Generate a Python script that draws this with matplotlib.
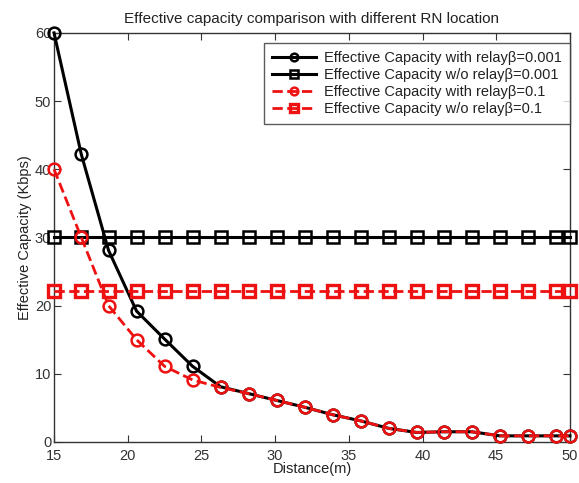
import matplotlib
matplotlib.use("Agg")
import matplotlib.pyplot as plt

plt.rcParams['font.family'] = ['Liberation Sans', 'DejaVu Sans']

distance = [15, 16.85, 18.7, 20.6, 22.5, 24.4, 26.3, 28.2, 30.1, 32.0, 33.9,
            35.8, 37.7, 39.6, 41.45, 43.35, 45.25, 47.15, 49.05, 50]
ec_relay_001 = [60, 42.2, 28.1, 19.2, 15.1, 11.1, 8.1, 7.1, 6.1, 5.1, 4.0,
                3.1, 2.0, 1.4, 1.5, 1.5, 0.9, 0.9, 0.9, 0.9]
ec_norelay_001 = [30] * 20
ec_relay_01 = [40, 30, 20, 15, 11.1, 9.1, 8.0, 7.1, 6.1, 5.1, 4.0,
               3.1, 2.0, 1.4, 1.5, 1.5, 0.9, 0.9, 0.9, 0.9]
ec_norelay_01 = [22.2] * 20

labels = ["Effective Capacity with relay\u03b2=0.001",
          "Effective Capacity w/o relay\u03b2=0.001",
          "Effective Capacity with relay\u03b2=0.1",
          "Effective Capacity w/o relay\u03b2=0.1"]

fig = plt.figure(figsize=(5.79, 4.83), dpi=100)
ax = fig.add_axes([0.0933, 0.0849, 0.891, 0.847])

red = '#ee1111'
ax.plot(distance, ec_relay_001, '-', color='black', lw=2.2, marker='o', ms=8.5,
        mfc='none', mec='black', mew=1.8, clip_on=False, zorder=3, label=labels[0])
ax.plot(distance, ec_norelay_001, '-', color='black', lw=2.2, marker='s', ms=8.5,
        mfc='none', mec='black', mew=1.8, clip_on=False, zorder=3, label=labels[1])
ax.plot(distance, ec_relay_01, '--', color=red, lw=2.0, marker='o', ms=8.5,
        mfc='none', mec=red, mew=1.8, clip_on=False, zorder=4, label=labels[2])
ax.plot(distance, ec_norelay_01, '--', color=red, lw=2.0, marker='s', ms=8.5,
        mfc='none', mec=red, mew=2.4, clip_on=False, zorder=4, label=labels[3])

ax.set_xlim(15, 50)
ax.set_ylim(0, 60)
ax.set_xticks([15, 20, 25, 30, 35, 40, 45, 50])
ax.set_yticks([0, 10, 20, 30, 40, 50, 60])
ax.tick_params(direction='in', top=True, right=True, labelsize=10.5,
               colors='#333333', length=5, pad=2)
ax.tick_params(axis='x', pad=5)
for s in ax.spines.values():
    s.set_color('#333333')
    s.set_linewidth(1.0)

ax.set_title("Effective capacity comparison with different RN location",
             fontsize=11, color='#222222', pad=7)
ax.set_xlabel("Distance(m)", fontsize=10.5, color='#222222', labelpad=-1)
ax.set_ylabel("Effective Capacity (Kbps)", fontsize=10.5, color='#222222', labelpad=2)

leg = ax.legend(loc='upper left', bbox_to_anchor=(264 / 579, 1 - 43 / 483),
                bbox_transform=fig.transFigure, fontsize=10.5, frameon=True,
                fancybox=False, edgecolor='#333333', borderpad=0.55,
                labelspacing=0.2, handlelength=3.0, handletextpad=0.55,
                borderaxespad=0, markerscale=0.65)
leg.get_frame().set_linewidth(1.0)
for t in leg.get_texts():
    t.set_color('#222222')

fig.savefig("out.png", dpi=100)
